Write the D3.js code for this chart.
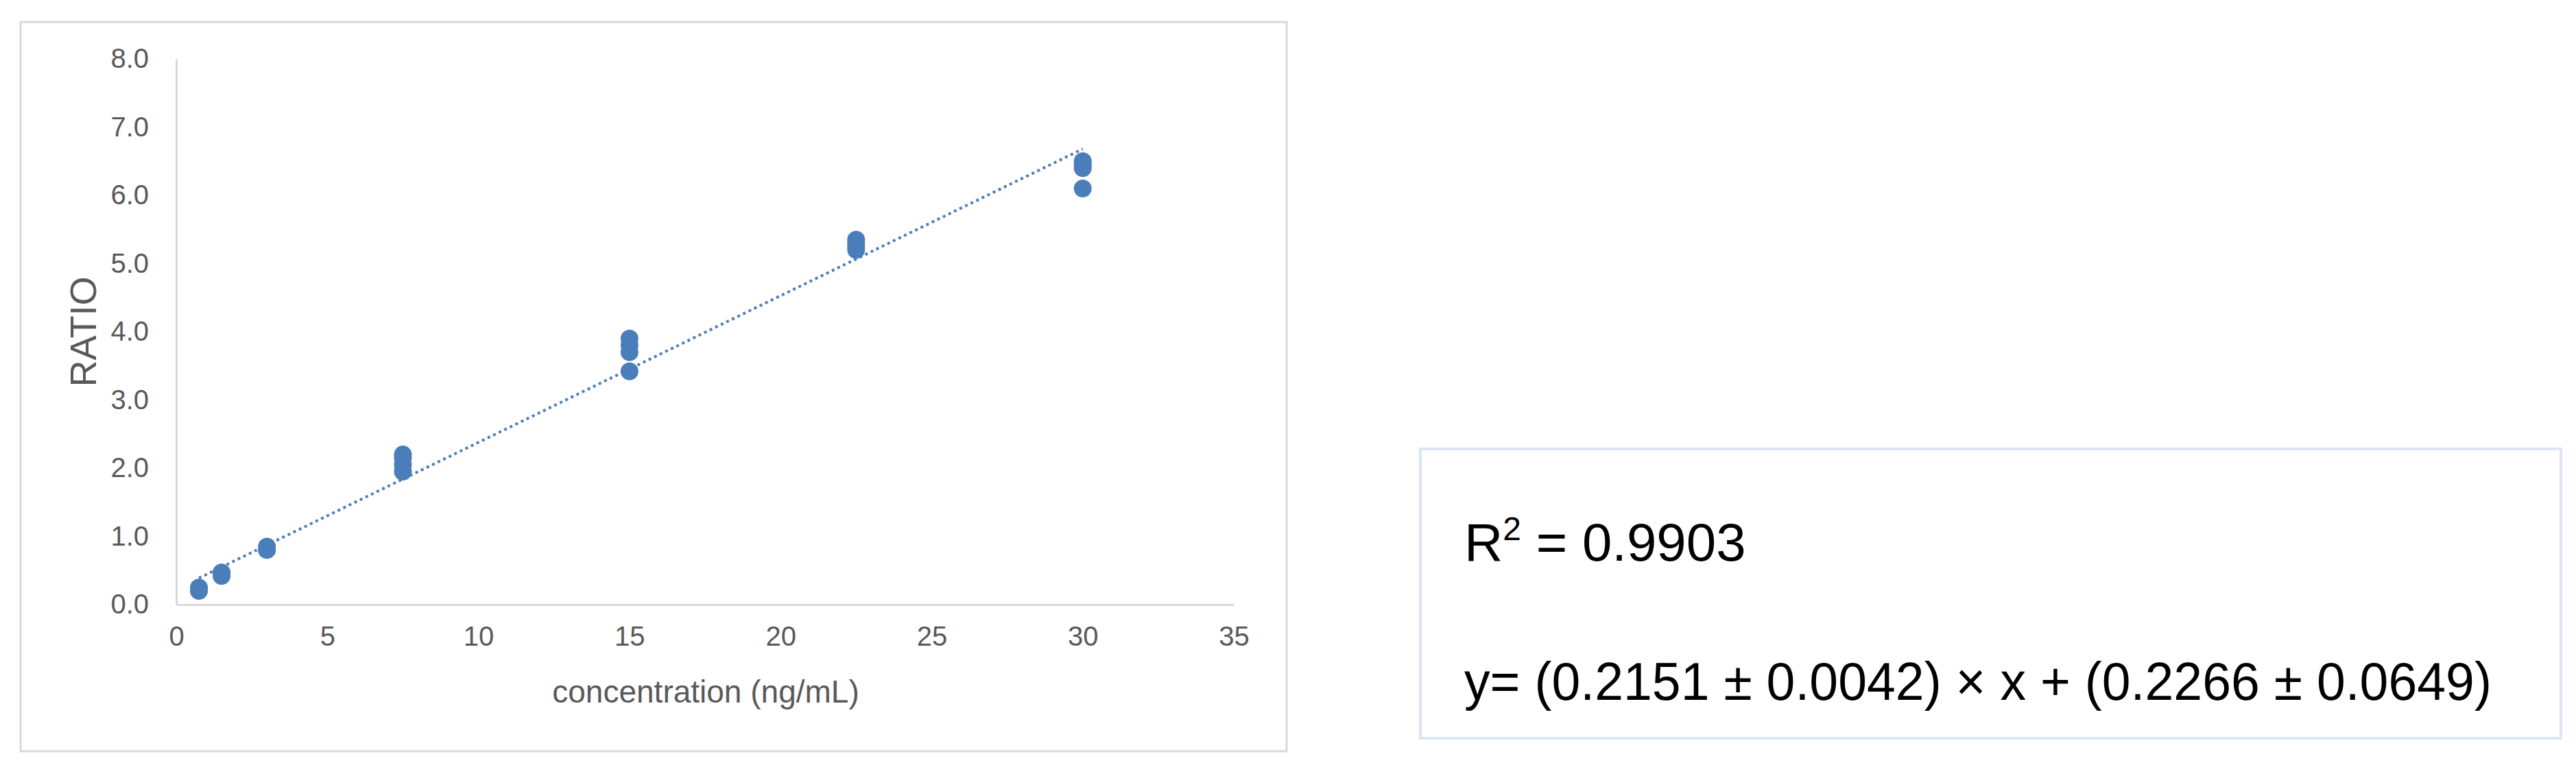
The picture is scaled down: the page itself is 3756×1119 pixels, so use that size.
<!DOCTYPE html>
<html>
<script src="https://d3js.org/d3.v7.min.js"></script>
<head>
    <style>
        body { margin: 0; background: #fff; }
        svg { display: block; }
    </style>
</head>
<body>
<script>
    const width = 3756, height = 1119;
    // data
    const concentrations = [0.75, 0.75, 1.5, 1.5, 3, 3, 7.5, 7.5, 7.5, 7.5, 15, 15, 15, 15, 22.5, 22.5, 22.5, 22.5, 30, 30, 30, 30];
    const ratios = [0.2, 0.25, 0.42, 0.47, 0.8, 0.85, 1.95, 2.05, 2.15, 2.2, 3.42, 3.7, 3.8, 3.9, 5.2, 5.25, 5.3, 5.35, 6.1, 6.4, 6.45, 6.5];
    const xTicks = [0, 5, 10, 15, 20, 25, 30, 35];
    const yTicks = [0, 1, 2, 3, 4, 5, 6, 7, 8];
    const fitCoef = [0.2151, 0.2266]; // slope, intercept
    const fitRange = [0.75, 30];

    const svg = d3.select("body").append("svg").attr("width", width).attr("height", height);
    const x = d3.scaleLinear().domain([0, 35]).range([257, 1799]);
    const y = d3.scaleLinear().domain([0, 8]).range([882, 86]);
    const font = "'Liberation Sans Narrow', 'Liberation Sans', Arial, sans-serif";

    // chart frame
    svg.append("rect").attr("x", 30).attr("y", 32).attr("width", 1846).attr("height", 1064)
        .attr("fill", "none").attr("stroke", "#d9d9d9").attr("stroke-width", 3);

    // axes
    const xAxis = svg.append("g").attr("transform", `translate(0,${y(0)})`)
        .call(d3.axisBottom(x).tickValues(xTicks).tickSize(0).tickPadding(32));
    const yAxis = svg.append("g").attr("transform", `translate(${x(0)},0)`)
        .call(d3.axisLeft(y).tickValues(yTicks).tickSize(0).tickPadding(40).tickFormat(d3.format(".1f")));
    [xAxis, yAxis].forEach(a => {
        a.select(".domain").attr("stroke", "#d9d9d9").attr("stroke-width", 3);
        a.selectAll("text").attr("font-family", font).attr("font-size", 40).attr("fill", "#595959");
    });

    svg.append("text").attr("x", 1029).attr("y", 1025).attr("text-anchor", "middle")
        .attr("font-family", font).attr("font-size", 46).attr("fill", "#595959")
        .text("concentration (ng/mL)");
    svg.append("text").attr("transform", `translate(140,484) rotate(-90)`).attr("text-anchor", "middle")
        .attr("font-family", "'Liberation Sans', Arial, sans-serif").attr("font-size", 54).attr("fill", "#595959")
        .text("RATIO");

    // trendline
    svg.append("line")
        .attr("x1", x(fitRange[0])).attr("y1", y(fitCoef[0] * fitRange[0] + fitCoef[1]))
        .attr("x2", x(fitRange[1])).attr("y2", y(fitCoef[0] * fitRange[1] + fitCoef[1]))
        .attr("stroke", "#4a7ebb").attr("stroke-width", 4).attr("stroke-dasharray", "4,5");

    // points
    svg.selectAll("circle.pt").data(concentrations).enter().append("circle")
        .attr("class", "pt")
        .attr("cx", d => x(d))
        .attr("cy", (d, i) => y(ratios[i]))
        .attr("r", 13)
        .attr("fill", "#4a7ebb");

    // equation box
    svg.append("rect").attr("x", 2071).attr("y", 655).attr("width", 1663).attr("height", 422)
        .attr("fill", "none").attr("stroke", "#dce6f2").attr("stroke-width", 4);
    const eqFont = "'Liberation Sans Narrow', 'Liberation Sans', Arial, sans-serif";
    const r2 = svg.append("text").attr("x", 2135).attr("y", 818)
        .attr("font-family", eqFont).attr("font-size", 78).attr("fill", "#000");
    r2.append("tspan").text("R");
    r2.append("tspan").attr("dy", -30).attr("font-size", 48).text("2");
    r2.append("tspan").attr("dy", 30).text(" = 0.9903");
    svg.append("text").attr("x", 2135).attr("y", 1021)
        .attr("font-family", eqFont).attr("font-size", 78).attr("fill", "#000")
        .attr("textLength", 1498).attr("lengthAdjust", "spacingAndGlyphs")
        .text("y= (0.2151 ± 0.0042) × x + (0.2266 ± 0.0649)");
</script>
</body>
</html>
